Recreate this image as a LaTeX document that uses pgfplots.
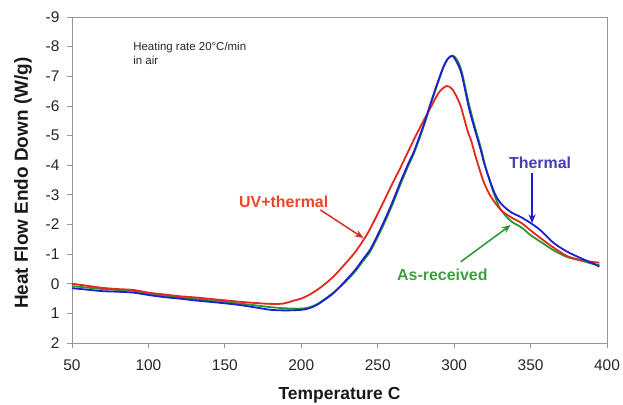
\documentclass[border=0pt]{standalone}
\usepackage{pgfplots}
\pgfplotsset{compat=1.18}
\usepackage{fontspec}
\setmainfont{Liberation Sans}
\usetikzlibrary{arrows.meta}
\definecolor{redline}{RGB}{228,40,30}
\definecolor{redtext}{RGB}{235,70,40}
\definecolor{blueline}{RGB}{30,30,210}
\definecolor{bluetext}{RGB}{70,60,180}
\definecolor{greenline}{RGB}{40,150,50}
\definecolor{greentext}{RGB}{60,160,60}
\definecolor{axgray}{RGB}{150,150,150}
\pgfplotstableread{
x y
50 0.15
60 0.20
70 0.25
80 0.27
90 0.30
100 0.38
110 0.45
120 0.50
130 0.56
140 0.61
150 0.66
160 0.72
170 0.80
180 0.88
190 0.90
200 0.88
205 0.83
210 0.72
215 0.55
221 0.32
228 -0.05
235 -0.45
240 -0.80
245 -1.15
250 -1.65
255 -2.20
260 -2.80
265 -3.45
270 -4.05
274 -4.50
280 -5.35
285 -6.15
289 -6.76
293 -7.32
296 -7.60
299 -7.68
302 -7.45
305 -7.05
309.5 -5.97
313 -5.30
317.4 -4.51
320 -4.00
324 -3.39
327 -3.00
330.5 -2.71
337 -2.42
344 -2.24
352 -1.98
357 -1.78
365 -1.38
374 -1.08
383 -0.86
390 -0.70
395 -0.58
}\thermal
\pgfplotstableread{
x y
50 0.00
60 0.07
70 0.14
80 0.18
90 0.21
100 0.30
110 0.36
120 0.42
130 0.46
140 0.51
150 0.56
160 0.61
170 0.65
180 0.68
188 0.67
195 0.57
200 0.50
205 0.38
210 0.22
215 0.03
221 -0.24
228 -0.63
235 -1.05
241 -1.50
245 -1.85
250 -2.36
255 -2.89
260 -3.42
265 -3.93
270 -4.47
275 -5.00
280 -5.50
285 -5.98
290 -6.45
295 -6.67
299 -6.55
304 -6.03
308.6 -5.19
311 -4.85
314 -4.30
317.4 -3.73
320 -3.35
324 -2.94
330.5 -2.49
337 -2.25
344 -2.05
350 -1.80
357 -1.52
365 -1.22
374 -0.93
383 -0.80
390 -0.74
395 -0.71
}\uvthermal
\pgfplotstableread{
x y
50 0.08
60 0.13
70 0.18
80 0.21
90 0.24
100 0.33
110 0.40
120 0.46
130 0.51
140 0.56
150 0.61
160 0.67
170 0.73
180 0.79
190 0.83
200 0.84
205 0.80
210 0.70
215 0.53
221 0.30
228 -0.02
235 -0.40
240 -0.74
245 -1.08
250 -1.58
255 -2.12
260 -2.72
265 -3.37
270 -3.98
274 -4.44
280 -5.30
285 -6.10
289 -6.72
293 -7.30
296 -7.60
299 -7.70
302 -7.55
305 -7.15
309.5 -6.10
313 -5.40
317.4 -4.60
320 -4.05
324 -3.35
327 -2.90
330.5 -2.50
337 -2.12
344 -1.90
350 -1.64
357 -1.40
365 -1.13
374 -0.90
383 -0.78
390 -0.68
395 -0.63
}\asreceived
\begin{document}
\begin{tikzpicture}
\begin{axis}[
  scale only axis,
  width=535bp, height=326bp,
  xmin=50, xmax=400, ymin=-9, ymax=2,
  y dir=reverse,
  xtick={50,100,...,400},
  ytick={-9,-8,...,2},
  /pgf/number format/assume math mode=true,
  tick label style={font=\fontsize{15.5}{17}\selectfont, text=black!85},
  xticklabel style={yshift=-8bp},
  yticklabel style={xshift=-4bp},
  axis line style={axgray, line width=0.8bp},
  tick style={axgray, line width=0.8bp},
  tick align=outside,
  major tick length=5bp,
  xtick pos=bottom, ytick pos=left,
  xlabel={Temperature C},
  ylabel={Heat Flow Endo Down (W/g)},
  xlabel style={font=\bfseries\fontsize{17.5}{19}\selectfont, text=black!90, at={(axis description cs:0.5,-0.16)}, anchor=center},
  ylabel style={font=\bfseries\fontsize{19}{21}\selectfont, text=black!90, at={(axis description cs:-0.0916,0.49)}, anchor=center},
  clip=false,
]
\addplot[greenline, line width=1.8bp, smooth] table[x=x,y=y] {\asreceived};
\addplot[redline, line width=1.8bp, smooth] table[x=x,y=y] {\uvthermal};
\addplot[blueline, line width=1.8bp, smooth] table[x=x,y=y] {\thermal};
\node[anchor=north west, inner sep=0pt, align=left, font=\fontsize{11.5}{14}\selectfont, text=black!85] at (axis cs:90,-8.16) {Heating rate 20°C/min\\in air};
\node[font=\bfseries\fontsize{16}{18}\selectfont, text=redtext] at (axis cs:188.5,-2.77) {UV+thermal};
\draw[redline, line width=1.5bp, -{Stealth[length=9bp,width=7bp]}] (axis cs:212.5,-2.49) -- (axis cs:240.7,-1.54);
\node[font=\bfseries\fontsize{16}{18}\selectfont, text=bluetext] at (axis cs:356.2,-4.08) {Thermal};
\draw[blueline, line width=1.5bp, -{Stealth[length=9bp,width=7bp]}] (axis cs:351,-3.73) -- (axis cs:351,-2.04);
\node[font=\bfseries\fontsize{16}{18}\selectfont, text=greentext] at (axis cs:292.3,-0.30) {As-received};
\draw[greenline, line width=1.5bp, -{Stealth[length=9bp,width=7bp]}] (axis cs:304.3,-0.74) -- (axis cs:337,-1.98);
\end{axis}
\pgfresetboundingbox
\path[use as bounding box] (-72bp,-62bp) rectangle (551bp,343bp);
\end{tikzpicture}
\end{document}
